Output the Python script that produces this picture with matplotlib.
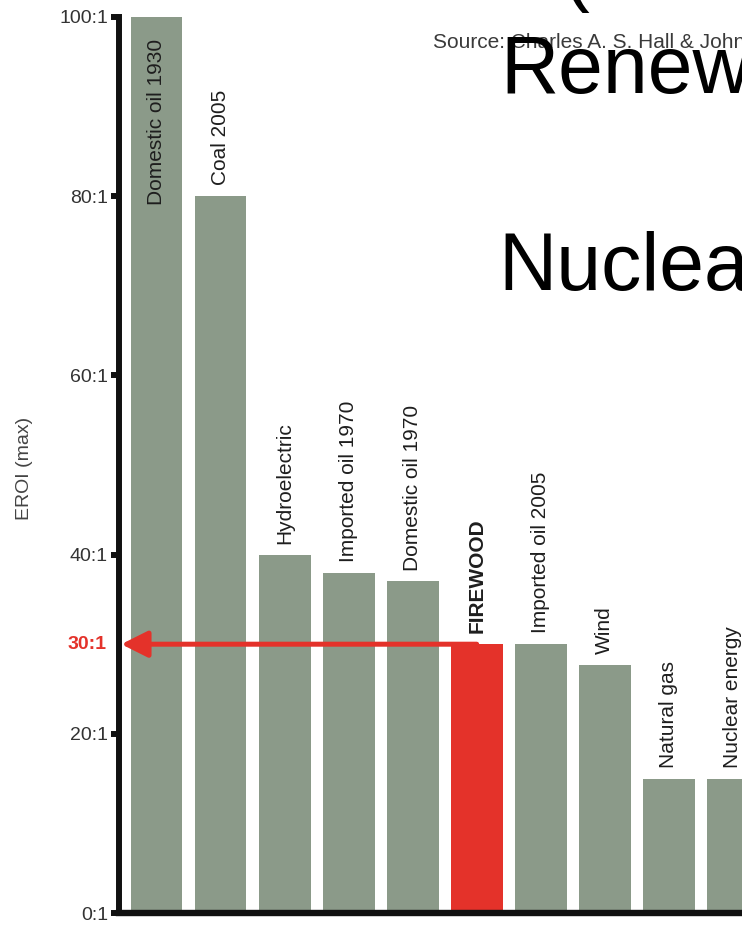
import matplotlib.pyplot as plt

# EROI values (ratio X:1)
sources = ['Domestic oil 1930', 'Coal 2005', 'Hydroelectric', 'Imported oil 1970',
           'Domestic oil 1970', 'FIREWOOD', 'Imported oil 2005', 'Wind',
           'Natural gas', 'Nuclear energy']
eroi = [100, 80, 40, 38, 37, 30, 30, 27.7, 15, 15]
highlight = 'FIREWOOD'
tick_values = [0, 20, 40, 60, 80, 100]
tick_labels = ['0:1', '20:1', '40:1', '60:1', '80:1', '100:1']
source_text = 'Source: Charles A. S. Hall & John W. Day, Jr.'

GREEN = '#8b9a89'
RED = '#e4322a'

plt.rcParams['font.family'] = ['Liberation Sans', 'DejaVu Sans']

fig = plt.figure(figsize=(7.42, 9.25), dpi=100)
# axes run past the right edge, the picture is a crop
ax = fig.add_axes([119 / 742, 12 / 925, 1.0, 896 / 925])

xs = list(range(len(sources)))
colors = [RED if s == highlight else GREEN for s in sources]
ax.bar(xs, eroi, width=0.81, color=colors, zorder=2)

#labels above bars, or inside when there is no room
for x, v, s in zip(xs, eroi, sources):
    if v + 20 > 100:
        y = v - 21
    else:
        y = v + 1.2
    weight = 'bold' if s == highlight else 'normal'
    ax.text(x, y, s, rotation=90, ha='center', va='bottom', fontsize=15,
            color='#1e1e1e', fontweight=weight, zorder=3)

ax.set_xlim(-0.585, 11)
ax.set_ylim(0, 100)
ax.set_xticks([])
ax.set_yticks(tick_values)
ax.set_yticklabels(tick_labels, fontsize=14, color='#333333')
ax.tick_params(axis='y', direction='out', length=6, width=4.3, pad=2, color='#111111')

for side in ['top', 'right']:
    ax.spines[side].set_visible(False)
ax.spines['left'].set_linewidth(4.3)
ax.spines['bottom'].set_linewidth(4.6)
ax.spines['left'].set_color('#111111')
ax.spines['bottom'].set_color('#111111')
ax.spines['bottom'].set_capstyle('projecting')

ax.set_ylabel('EROI (max)', fontsize=14, color='#444444')
ax.yaxis.set_label_coords(-0.116, 0.496)

# red arrow from firewood back to the axis
fw = sources.index(highlight)
ax.annotate('', xy=(0.003, eroi[fw]), xycoords=('axes fraction', 'data'),
            xytext=(fw, eroi[fw]), textcoords='data',
            arrowprops=dict(arrowstyle='-|>', color=RED, lw=3.6,
                            mutation_scale=40, shrinkA=0, shrinkB=0),
            zorder=4)
ax.annotate('%d:1' % eroi[fw], xy=(0, eroi[fw]), xycoords=('axes fraction', 'data'),
            xytext=(-9, 0), textcoords='offset points', ha='right', va='center',
            fontsize=14, fontweight='bold', color=RED, annotation_clip=False)

# overlay texts from the slide
fig.text(433 / 742, 1 - 43 / 925, source_text, fontsize=15, color='#3a3a3a',
         va='center', ha='left')
fig.text(500 / 742, 1 - 93 / 925, 'Renewable', fontsize=58, va='baseline', ha='left')
fig.text(498 / 742, 1 - 290 / 925, 'Nuclear', fontsize=58, va='baseline', ha='left')
fig.text(563 / 742, 1 + 4 / 925, '(', fontsize=58, va='baseline', ha='left')

fig.savefig('out.png', dpi=100)
